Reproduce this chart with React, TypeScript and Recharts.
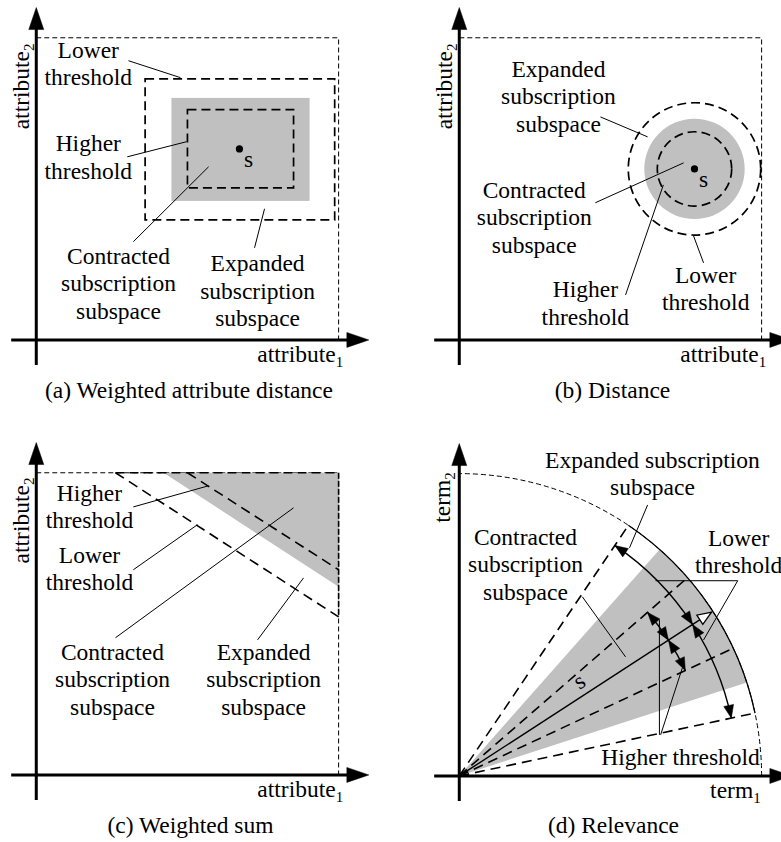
import React from 'react';
import { ComposedChart, XAxis, YAxis, ReferenceArea, ReferenceLine, ReferenceDot, Scatter } from 'recharts';

type Seg = [number, number, number, number];
type Label = { x: number; y: number; lines: string[] };

const FONT = "'Liberation Serif', 'Times New Roman', Times, 'DejaVu Serif', serif";
const FS = 23.5;
const LH = 27.5;
const SUB_FS = 15;
const INK = '#000';
const GRAY = '#c0c0c0';

const W = 390;
const H = 420;
const X_DOMAIN: [number, number] = [-1.2, 11.7];
const Y_DOMAIN: [number, number] = [-2.65, 11.25];
const PANEL_POS = [[0, 0], [423, 0], [0, 435], [423, 436]];

// shared axis extents (data units)
const AXIS_FROM = -0.83;
const AXIS_TIP = 11;
const OUTER_BOX = [0, 10, 0, 10];

const CAPTIONS = ['(a) Weighted attribute distance', '(b) Distance', '(c) Weighted sum', '(d) Relevance'];
const CAPTION_POS = [[5.05, -1.93], [5.07, -1.93], [5.1, -1.93], [5.1, -1.9]];
const X_NAMES = [['attribute', '1'], ['attribute', '1'], ['attribute', '1'], ['term', '1']];
const Y_NAMES = [['attribute', '2'], ['attribute', '2'], ['attribute', '2'], ['term', '2']];
const X_NAME_POS = [[10.15, -0.73], [10.15, -0.73], [10.15, -0.73], [9.97, -0.73]];
const Y_NAME_POS = [[-0.25, 6.97], [-0.24, 6.97], [-0.25, 7.0], [-0.3, 8.38]];

// ---- Panel (a): weighted attribute distance
const A_LOWER = [3.6, 9.87, 3.97, 8.64];
const A_GRAY = [4.47, 9.04, 4.6, 8.01];
const A_HIGHER = [5.0, 8.51, 5.03, 7.62];
const A_POINT = [{ x: 6.72, y: 6.32 }];
const A_LEADERS: Seg[] = [
  [3.05, 9.24, 4.77, 8.68],
  [3.01, 6.06, 4.97, 6.56],
  [3.21, 3.25, 5.7, 5.73],
  [7.22, 3.05, 7.55, 4.34],
];
const A_LABELS: Label[] = [
  { x: 1.72, y: 9.34, lines: ['Lower', 'threshold'] },
  { x: 1.72, y: 6.25, lines: ['Higher', 'threshold'] },
  { x: 2.72, y: 2.52, lines: ['Contracted', 'subscription', 'subspace'] },
  { x: 7.32, y: 2.28, lines: ['Expanded', 'subscription', 'subspace'] },
  { x: 7.02, y: 5.73, lines: ['s'] },
];

// ---- Panel (b): distance
const B_POINT = [{ x: 7.78, y: 5.66 }];
const B_RADII = [2.19, 1.66, 1.23]; // lower threshold, subscription, higher threshold
const B_LEADERS: Seg[] = [
  [4.67, 7.38, 6.23, 6.72],
  [4.5, 4.54, 7.42, 5.86],
  [5.5, 1.49, 6.75, 5.13],
  [8.08, 2.55, 7.75, 3.44],
];
const B_LABELS: Label[] = [
  { x: 3.28, y: 8.71, lines: ['Expanded', 'subscription', 'subspace'] },
  { x: 2.48, y: 4.7, lines: ['Contracted', 'subscription', 'subspace'] },
  { x: 4.17, y: 1.42, lines: ['Higher', 'threshold'] },
  { x: 8.15, y: 1.89, lines: ['Lower', 'threshold'] },
  { x: 8.08, y: 5.07, lines: ['s'] },
];

// ---- Panel (c): weighted sum
const C_GRAY = [4.21, 10, 6.23, 10];
const C_HIGHER: Seg = [5.0, 10, 10, 6.79];
const C_LOWER: Seg = [2.62, 10, 10, 5.23];
const C_LEADERS: Seg[] = [
  [3.21, 8.87, 5.7, 9.57],
  [3.21, 6.79, 5.33, 8.28],
  [2.62, 4.54, 8.51, 8.84],
  [7.32, 4.47, 8.84, 6.52],
];
const C_LABELS: Label[] = [
  { x: 1.76, y: 9.07, lines: ['Higher', 'threshold'] },
  { x: 1.76, y: 7.02, lines: ['Lower', 'threshold'] },
  { x: 2.52, y: 3.81, lines: ['Contracted', 'subscription', 'subspace'] },
  { x: 7.52, y: 3.81, lines: ['Expanded', 'subscription', 'subspace'] },
];

// ---- Panel (d): relevance (angles in degrees, radii in data units)
const D_R = 10;
const D_S_ANGLE = 33;
const D_S_TIP = 9.95;
const D_OUTER_RAYS = [12, 56];
const D_INNER_RAYS = [25, 41];
const D_GRAY_SECTOR = [18, 48.5];
const D_LOWER_ARC_R = 9.2;
const D_HIGHER_ARC_R = 8.25;
const D_LEADERS: Seg[] = [
  [6.23, 8.97, 5.63, 7.55],
  [4.07, 5.93, 5.5, 3.94],
  [6.49, 6.46, 9.21, 6.46],
  [9.21, 6.46, 8.08, 4.5],
  [6.62, 5.17, 6.62, 1.36],
  [6.66, 1.36, 7.38, 3.58],
];
const D_LABELS: Label[] = [
  { x: 6.39, y: 10.2, lines: ['Expanded subscription', 'subspace'] },
  { x: 2.19, y: 7.65, lines: ['Contracted', 'subscription', 'subspace'] },
  { x: 9.24, y: 7.62, lines: ['Lower', 'threshold'] },
  { x: 7.32, y: 0.36, lines: ['Higher threshold'] },
];
const D_S_LABEL = { x: 4.1, y: 2.93, text: 's' };

// ---------------- helpers ----------------
const rad = (d: number) => (d * Math.PI) / 180;
const polar = (r: number, deg: number) => ({ x: r * Math.cos(rad(deg)), y: r * Math.sin(rad(deg)) });

const arrowShape = (screenDeg: number, len: number, hw: number, hollow = false) => (p: any) => {
  const a = rad(screenDeg);
  const dx = Math.cos(a);
  const dy = Math.sin(a);
  const bx = p.cx - dx * len;
  const by = p.cy - dy * len;
  const pts = `${p.cx},${p.cy} ${bx - dy * hw},${by + dx * hw} ${bx + dy * hw},${by - dx * hw}`;
  return <polygon points={pts} fill={hollow ? '#fff' : INK} stroke={INK} strokeWidth={hollow ? 1.3 : 0.5} strokeLinejoin="miter" />;
};

const dot = (key: string, pt: { x: number; y: number }, shape: any) => (
  <ReferenceDot key={key} x={pt.x} y={pt.y} r={0} ifOverflow="visible" shape={shape} />
);

const textStyle = { fontFamily: FONT, fontSize: FS } as React.CSSProperties;

const textShape = (lines: string[], anchor = 'middle', rotate = 0) => (p: any) => (
  <text
    x={p.cx}
    y={p.cy}
    textAnchor={anchor}
    style={textStyle}
    fill={INK}
    transform={rotate ? `rotate(${rotate} ${p.cx} ${p.cy})` : undefined}
  >
    {lines.map((l, i) => (
      <tspan key={i} x={p.cx} dy={i === 0 ? 0 : LH}>
        {l}
      </tspan>
    ))}
  </text>
);

const subShape = (main: string, sub: string, rotate: boolean) => (p: any) => (
  <text
    x={p.cx}
    y={p.cy}
    textAnchor={rotate ? 'start' : 'end'}
    style={textStyle}
    fill={INK}
    transform={rotate ? `rotate(-90 ${p.cx} ${p.cy})` : undefined}
  >
    {main}
    <tspan dy={5} style={{ fontSize: SUB_FS }}>
      {sub}
    </tspan>
  </text>
);

const labels = (k: string, list: Label[]) => list.map((l, i) => dot(`${k}t${i}`, { x: l.x, y: l.y }, textShape(l.lines)));

const seg = (key: string, s: Seg, sw = 1, dash?: string) => (
  <ReferenceLine
    key={key}
    segment={[{ x: s[0], y: s[1] }, { x: s[2], y: s[3] }]}
    stroke={INK}
    strokeWidth={sw}
    strokeDasharray={dash}
    ifOverflow="visible"
  />
);

const leaders = (k: string, list: Seg[]) => list.map((s, i) => seg(`${k}l${i}`, s, 1));

const area = (key: string, r: number[], shape: any) => (
  <ReferenceArea key={key} x1={r[0]} x2={r[1]} y1={r[2]} y2={r[3]} ifOverflow="visible" shape={shape} />
);

const rectOutline = (sw: number, dash: string) => (p: any) => (
  <rect x={p.x} y={p.y} width={p.width} height={p.height} fill="none" stroke={INK} strokeWidth={sw} strokeDasharray={dash} />
);
const rectFill = (fill: string) => (p: any) => <rect x={p.x} y={p.y} width={p.width} height={p.height} fill={fill} />;
const ellipseShape = (fill: string, sw: number, dash?: string) => (p: any) => (
  <ellipse
    cx={p.x + p.width / 2}
    cy={p.y + p.height / 2}
    rx={p.width / 2}
    ry={p.height / 2}
    fill={fill}
    stroke={sw ? INK : 'none'}
    strokeWidth={sw}
    strokeDasharray={dash}
  />
);
const circleBox = (c: { x: number; y: number }, r: number) => [c.x - r, c.x + r, c.y - r, c.y + r];

// arc / sector inside a quarter box [0,r]x[0,r] (origin = bottom-left corner)
const arcPathShape = (a1: number, a2: number, sw: number, dash?: string) => (p: any) => {
  const ox = p.x;
  const oy = p.y + p.height;
  const rr = p.width;
  const x1 = ox + rr * Math.cos(rad(a1));
  const y1 = oy - rr * Math.sin(rad(a1));
  const x2 = ox + rr * Math.cos(rad(a2));
  const y2 = oy - rr * Math.sin(rad(a2));
  return (
    <path d={`M${x1},${y1} A${rr},${rr} 0 0 0 ${x2},${y2}`} fill="none" stroke={INK} strokeWidth={sw} strokeDasharray={dash} />
  );
};
const sectorShape = (a1: number, a2: number, fill: string) => (p: any) => {
  const ox = p.x;
  const oy = p.y + p.height;
  const rr = p.width;
  const x1 = ox + rr * Math.cos(rad(a1));
  const y1 = oy - rr * Math.sin(rad(a1));
  const x2 = ox + rr * Math.cos(rad(a2));
  const y2 = oy - rr * Math.sin(rad(a2));
  return <path d={`M${ox},${oy} L${x1},${y1} A${rr},${rr} 0 0 0 ${x2},${y2} Z`} fill={fill} />;
};

const ALEN = 13;
const AHW = 5;
const arcWithArrows = (k: string, r: number, a1: number, a2: number) => [
  area(`${k}arc`, [0, r, 0, r], arcPathShape(a1, a2, 1.4)),
  dot(`${k}h1`, polar(r, a1), arrowShape(-(a1 - 90), ALEN, AHW)),
  dot(`${k}h2`, polar(r, a2), arrowShape(-(a2 + 90), ALEN, AHW)),
];

const axes = (i: number) => [
  seg(`ax${i}`, [AXIS_FROM, 0, AXIS_TIP - 0.5, 0], 3),
  seg(`ay${i}`, [0, AXIS_FROM, 0, AXIS_TIP - 0.5], 3),
  dot(`axh${i}`, { x: AXIS_TIP, y: 0 }, arrowShape(0, 22, 7.5)),
  dot(`ayh${i}`, { x: 0, y: AXIS_TIP }, arrowShape(-90, 22, 7.5)),
  dot(`axn${i}`, { x: X_NAME_POS[i][0], y: X_NAME_POS[i][1] }, subShape(X_NAMES[i][0], X_NAMES[i][1], false)),
  dot(`ayn${i}`, { x: Y_NAME_POS[i][0], y: Y_NAME_POS[i][1] }, subShape(Y_NAMES[i][0], Y_NAMES[i][1], true)),
  dot(`cap${i}`, { x: CAPTION_POS[i][0], y: CAPTION_POS[i][1] }, textShape([CAPTIONS[i]])),
];

function Panel({ idx, children }: { idx: number; children: any }) {
  return (
    <div style={{ position: 'absolute', left: PANEL_POS[idx][0], top: PANEL_POS[idx][1], width: W, height: H }}>
      <ComposedChart width={W} height={H} margin={{ top: 0, right: 0, bottom: 0, left: 0 }}>
        <XAxis type="number" dataKey="x" domain={X_DOMAIN} allowDataOverflow hide />
        <YAxis type="number" dataKey="y" domain={Y_DOMAIN} allowDataOverflow hide />
        {children}
        {axes(idx)}
      </ComposedChart>
    </div>
  );
}

const pointShape = (p: any) => <circle cx={p.cx} cy={p.cy} r={3.6} fill={INK} />;

export default function App() {
  const panelA = [
    area('aout', OUTER_BOX, rectOutline(1, '5 3')),
    area('agray', A_GRAY, rectFill(GRAY)),
    area('alow', A_LOWER, rectOutline(1.7, '9 5')),
    area('ahigh', A_HIGHER, rectOutline(1.7, '9 5')),
    <Scatter key="apt" data={A_POINT} dataKey="y" shape={pointShape} isAnimationActive={false} />,
    ...leaders('a', A_LEADERS),
    ...labels('a', A_LABELS),
  ];

  const bc = B_POINT[0];
  const panelB = [
    area('bout', OUTER_BOX, rectOutline(1, '5 3')),
    area('bgray', circleBox(bc, B_RADII[1]), ellipseShape(GRAY, 0)),
    area('blow', circleBox(bc, B_RADII[0]), ellipseShape('none', 1.7, '9 5')),
    area('bhigh', circleBox(bc, B_RADII[2]), ellipseShape('none', 1.7, '9 5')),
    <Scatter key="bpt" data={B_POINT} dataKey="y" shape={pointShape} isAnimationActive={false} />,
    ...leaders('b', B_LEADERS),
    ...labels('b', B_LABELS),
  ];

  const panelC = [
    area('cout', OUTER_BOX, rectOutline(1, '5 3')),
    area(
      'cgray',
      C_GRAY,
      (p: any) => (
        <polygon points={`${p.x},${p.y} ${p.x + p.width},${p.y} ${p.x + p.width},${p.y + p.height}`} fill={GRAY} />
      )
    ),
    seg('ctop', [C_LOWER[0], 10, 10, 10], 1.6, '9 5'),
    seg('cright', [10, 10, 10, C_LOWER[3]], 1.6, '6 2'),
    seg('chigh', C_HIGHER, 1.6, '10 6'),
    seg('clow', C_LOWER, 1.6, '10 6'),
    ...leaders('c', C_LEADERS),
    ...labels('c', C_LABELS),
  ];

  const sTip = polar(D_S_TIP, D_S_ANGLE);
  const panelD = [
    area('dgray', [0, D_R, 0, D_R], sectorShape(D_GRAY_SECTOR[0], D_GRAY_SECTOR[1], GRAY)),
    area('dquarter', [0, D_R, 0, D_R], arcPathShape(0, 90, 1, '5 3')),
    area('dsolid', [0, D_R, 0, D_R], arcPathShape(D_OUTER_RAYS[0], D_OUTER_RAYS[1], 1.3)),
    ...D_OUTER_RAYS.map((a, i) => {
      const e = polar(D_R, a);
      return seg(`dor${i}`, [0, 0, e.x, e.y], 1.6, '10 6');
    }),
    ...D_INNER_RAYS.map((a, i) => {
      const e = polar(D_R, a);
      return seg(`dir${i}`, [0, 0, e.x, e.y], 1.6, '10 6');
    }),
    seg('ds', [0, 0, sTip.x, sTip.y], 1.4),
    ...arcWithArrows('dl1', D_LOWER_ARC_R, D_OUTER_RAYS[0], D_S_ANGLE),
    ...arcWithArrows('dl2', D_LOWER_ARC_R, D_S_ANGLE, D_OUTER_RAYS[1]),
    ...arcWithArrows('dh1', D_HIGHER_ARC_R, D_INNER_RAYS[0], D_S_ANGLE),
    ...arcWithArrows('dh2', D_HIGHER_ARC_R, D_S_ANGLE, D_INNER_RAYS[1]),
    dot('dstip', sTip, arrowShape(-D_S_ANGLE, 14, 5.5, true)),
    ...leaders('d', D_LEADERS),
    ...labels('d', D_LABELS),
    dot('dslab', { x: D_S_LABEL.x, y: D_S_LABEL.y }, textShape([D_S_LABEL.text], 'middle', -D_S_ANGLE)),
  ];

  return (
    <div
      style={{
        position: 'absolute',
        left: 0,
        top: 0,
        width: 781,
        height: 842,
        overflow: 'hidden',
        background: '#fff',
      }}
    >
      <Panel idx={0}>{panelA}</Panel>
      <Panel idx={1}>{panelB}</Panel>
      <Panel idx={2}>{panelC}</Panel>
      <Panel idx={3}>{panelD}</Panel>
    </div>
  );
}
